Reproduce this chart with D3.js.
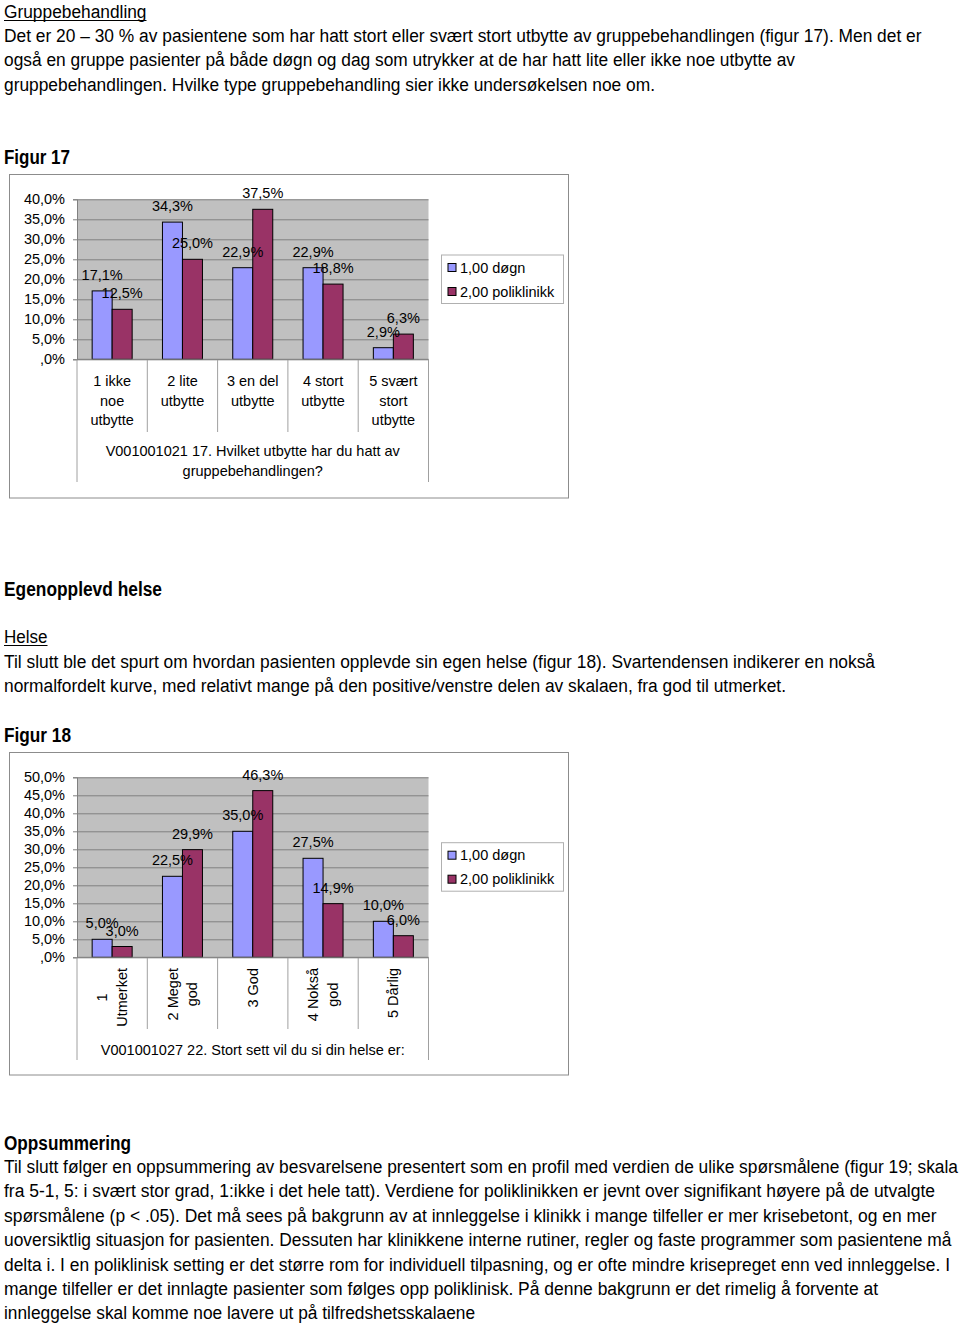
<!DOCTYPE html>
<html>
<head>
<meta charset="utf-8">
<script src="https://cdn.jsdelivr.net/npm/d3@7"></script>
<style>
  body { margin: 0; background: #fff; }
  svg { display: block; font-family: "Liberation Sans", Arial, sans-serif; }
</style>
</head>
<body>
<svg id="page" width="960" height="1326"></svg>
<script>
// chart data
const series = ['1,00 døgn', '2,00 poliklinikk'];
const seriesColors = ['#9999ff', '#993366'];

const cats17 = ['1 ikke\nnoe\nutbytte', '2 lite\nutbytte', '3 en del\nutbytte', '4 stort\nutbytte', '5 svært\nstort\nutbytte'];
const dogn17 = [17.1, 34.3, 22.9, 22.9, 2.9];
const poli17 = [12.5, 25.0, 37.5, 18.8, 6.3];
const ticks17 = [0, 5, 10, 15, 20, 25, 30, 35, 40];
const title17 = ['V001001021 17. Hvilket utbytte har du hatt av', 'gruppebehandlingen?'];

const cats18 = ['1\nUtmerket', '2 Meget\ngod', '3 God', '4 Nokså\ngod', '5 Dårlig'];
const dogn18 = [5.0, 22.5, 35.0, 27.5, 10.0];
const poli18 = [3.0, 29.9, 46.3, 14.9, 6.0];
const ticks18 = [0, 5, 10, 15, 20, 25, 30, 35, 40, 45, 50];
const title18 = ['V001001027 22. Stort sett vil du si din helse er:'];

const svg = d3.select('#page');
svg.append('rect').attr('width', 960).attr('height', 1326).attr('fill', '#fff');

const fmt = v => v === 0 ? ',0%' : v.toFixed(1).replace('.', ',') + '%';

// plain text helper, width forces the line length seen in the document
function addText(x, y, str, size, weight, width) {
  const t = svg.append('text')
    .attr('x', x).attr('y', y)
    .attr('font-size', size)
    .attr('font-weight', weight || 'normal')
    .attr('fill', '#000')
    .text(str);
  if (width) t.attr('textLength', width).attr('lengthAdjust', 'spacingAndGlyphs');
  return t;
}

function underline(x1, x2, y) {
  svg.append('line').attr('x1', x1).attr('x2', x2).attr('y1', y).attr('y2', y)
    .attr('stroke', '#000').attr('stroke-width', 1.2);
}

const bodySize = 18;

// ---- text of the page
addText(4, 18, 'Gruppebehandling', bodySize, 'normal', 142.5);
underline(4, 146.5, 20.5);
addText(4, 42, 'Det er 20 – 30 % av pasientene som har hatt stort eller svært stort utbytte av gruppebehandlingen (figur 17). Men det er', bodySize, 'normal', 917.5);
addText(4, 66, 'også en gruppe pasienter på både døgn og dag som utrykker at de har hatt lite eller ikke noe utbytte av', bodySize, 'normal', 791);
addText(4, 90.5, 'gruppebehandlingen. Hvilke type gruppebehandling sier ikke undersøkelsen noe om.', bodySize, 'normal', 651);
addText(4, 163.5, 'Figur 17', 19.5, 'bold', 66);

addText(4, 595.5, 'Egenopplevd helse', 19.5, 'bold', 158);
addText(4, 643, 'Helse', bodySize, 'normal', 43.5);
underline(4, 47.5, 645.5);
addText(4, 667.5, 'Til slutt ble det spurt om hvordan pasienten opplevde sin egen helse (figur 18). Svartendensen indikerer en nokså', bodySize, 'normal', 871);
addText(4, 692, 'normalfordelt kurve, med relativt mange på den positive/venstre delen av skalaen, fra god til utmerket.', bodySize, 'normal', 782);
addText(4, 741.5, 'Figur 18', 19.5, 'bold', 67);

addText(4, 1149.5, 'Oppsummering', 19.5, 'bold', 127);
const summary = [
  ['Til slutt følger en oppsummering av besvarelsene presentert som en profil med verdien de ulike spørsmålene (figur 19; skala', 954],
  ['fra 5-1, 5: i svært stor grad, 1:ikke i det hele tatt).  Verdiene for poliklinikken er jevnt over signifikant høyere på de utvalgte', 931],
  ['spørsmålene (p < .05).  Det må sees på bakgrunn av at innleggelse i klinikk i mange tilfeller er mer krisebetont, og en mer', 932.5],
  ['uoversiktlig situasjon for pasienten. Dessuten har klinikkene interne rutiner, regler og faste programmer som pasientene må', 947.5],
  ['delta i. I en poliklinisk setting er det større rom for individuell tilpasning, og er ofte mindre krisepreget enn ved innleggelse. I', 946],
  ['mange tilfeller er det innlagte pasienter som følges opp poliklinisk.  På denne bakgrunn er det rimelig å forvente at', 874],
  ['innleggelse skal komme noe lavere ut på tilfredshetsskalaene', 471]
];
summary.forEach((d, i) => addText(4, 1173 + i * 24.4, d[0], bodySize, 'normal', d[1]));

// ---- bar chart
function barChart(opt) {
  const g = svg.append('g');
  const left = 77, right = 428.5;

  // outer frame
  g.append('rect')
    .attr('x', 9.5).attr('y', opt.boxTop)
    .attr('width', 559).attr('height', opt.boxBottom - opt.boxTop)
    .attr('fill', '#fff').attr('stroke', '#8c8c8c');

  const x = d3.scaleBand().domain(opt.cats).range([left, right]);
  const x1 = d3.scaleBand().domain(series).range([0, x.bandwidth()]).paddingOuter(0.7575);
  const y = d3.scaleLinear().domain([0, opt.max]).range([opt.bottom, opt.top]);

  g.append('rect')
    .attr('x', left).attr('y', opt.top)
    .attr('width', right - left).attr('height', opt.bottom - opt.top)
    .attr('fill', '#c0c0c0');

  // gridlines
  const grid = g.append('g').attr('transform', `translate(${left},0)`)
    .call(d3.axisLeft(y).tickValues(opt.ticks).tickSize(-(right - left)).tickFormat(''));
  grid.select('.domain').remove();
  grid.selectAll('line').attr('stroke', '#808080');

  // y axis with labels
  const ya = g.append('g').attr('transform', `translate(${left},0)`)
    .call(d3.axisLeft(y).tickValues(opt.ticks).tickSize(4).tickPadding(8).tickFormat(fmt));
  ya.select('.domain').attr('stroke', '#808080');
  ya.selectAll('line').attr('stroke', '#808080');
  ya.selectAll('text').attr('font-size', 14.5).attr('font-family', '"Liberation Sans", Arial, sans-serif').attr('fill', '#000');

  const rows = opt.cats.map((c, i) => ({ cat: c, values: [opt.a[i], opt.b[i]] }));

  // bars
  const grp = g.selectAll('.cat').data(rows).enter().append('g')
    .attr('transform', d => `translate(${x(d.cat)},0)`);
  grp.selectAll('rect').data(d => d.values.map((v, j) => ({ s: series[j], v: v, j: j })))
    .enter().append('rect')
    .attr('x', d => x1(d.s)).attr('width', x1.bandwidth())
    .attr('y', d => y(d.v)).attr('height', d => y(0) - y(d.v))
    .attr('fill', d => seriesColors[d.j])
    .attr('stroke', '#000').attr('stroke-width', 1);
  grp.selectAll('text.lab').data(d => d.values.map((v, j) => ({ s: series[j], v: v })))
    .enter().append('text').attr('class', 'lab')
    .attr('x', d => x1(d.s) + x1.bandwidth() / 2)
    .attr('y', d => y(d.v) - 11)
    .attr('text-anchor', 'middle').attr('font-size', 14.5).attr('fill', '#000')
    .text(d => fmt(d.v));

  // category dividers under the axis
  const edges = opt.cats.map(c => x(c)).concat([right]);
  g.selectAll('.div').data(edges).enter().append('line')
    .attr('x1', d => d).attr('x2', d => d)
    .attr('y1', opt.bottom)
    .attr('y2', (d, i) => (i === 0 || i === edges.length - 1) ? opt.outerDiv : opt.catDiv)
    .attr('stroke', '#a0a0a0');
  g.append('line').attr('x1', left).attr('x2', right)
    .attr('y1', opt.bottom).attr('y2', opt.bottom).attr('stroke', '#808080');

  // category labels
  opt.cats.forEach(c => {
    const lines = c.split('\n');
    const cx = x(c) + x.bandwidth() / 2;
    if (!opt.rotate) {
      lines.forEach((l, i) => {
        g.append('text').attr('x', cx).attr('y', opt.catY + i * 19.5)
          .attr('text-anchor', 'middle').attr('font-size', 14.5).text(l);
      });
    } else {
      const ts = lines.map((l, i) => g.append('text')
        .attr('text-anchor', 'middle').attr('font-size', 14.5).text(l));
      const longest = d3.max(ts, t => t.node().getComputedTextLength());
      const cy = opt.catY + longest / 2;
      ts.forEach((t, i) => {
        const bx = cx + (i - (lines.length - 1) / 2) * 19.5 + 5;
        t.attr('transform', `translate(${bx},${cy}) rotate(-90)`);
      });
    }
  });

  // axis title
  opt.title.forEach((l, i) => {
    g.append('text').attr('x', (left + right) / 2).attr('y', opt.titleY + i * 19.5)
      .attr('text-anchor', 'middle').attr('font-size', 14.5).text(l);
  });

  // legend
  const lg = g.append('g');
  lg.append('rect').attr('x', 441.5).attr('y', opt.legTop)
    .attr('width', 122).attr('height', 48.5)
    .attr('fill', '#fff').attr('stroke', '#b0b0b0');
  series.forEach((s, i) => {
    const cy = opt.legTop + 12.5 + i * 24;
    lg.append('rect').attr('x', 448).attr('y', cy - 4).attr('width', 8).attr('height', 8)
      .attr('fill', seriesColors[i]).attr('stroke', '#000');
    lg.append('text').attr('x', 460).attr('y', cy + 5).attr('font-size', 14.5).text(s);
  });
}

barChart({
  cats: cats17, a: dogn17, b: poli17, ticks: ticks17, max: 40, title: title17,
  boxTop: 174.5, boxBottom: 498, top: 199.3, bottom: 359.3,
  catDiv: 432, outerDiv: 482, catY: 386, titleY: 456, legTop: 255, rotate: false
});

barChart({
  cats: cats18, a: dogn18, b: poli18, ticks: ticks18, max: 50, title: title18,
  boxTop: 752.5, boxBottom: 1075, top: 777.3, bottom: 957.3,
  catDiv: 1029, outerDiv: 1060, catY: 968, titleY: 1055, legTop: 842.7, rotate: true
});
</script>
</body>
</html>
